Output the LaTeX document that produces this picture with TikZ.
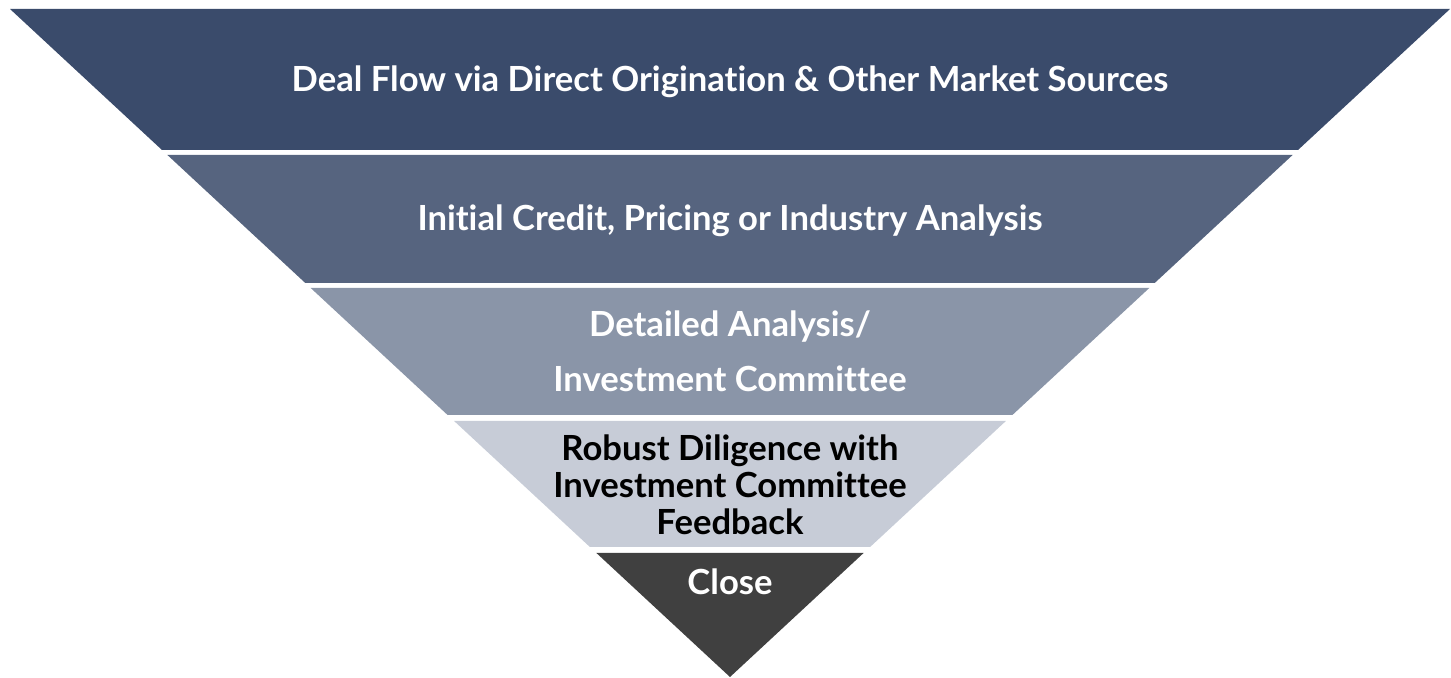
\documentclass[tikz,border=0pt]{standalone}
\usepackage{fontspec}
\setmainfont[Ligatures=NoCommon]{Lato}
\definecolor{bandA}{HTML}{3A4B6B}
\definecolor{bandB}{HTML}{56647F}
\definecolor{bandC}{HTML}{8A95A8}
\definecolor{bandD}{HTML}{C7CCD7}
\definecolor{bandE}{HTML}{404040}
\begin{document}
\begin{tikzpicture}[x=0.02cm, y=-0.02cm,
    label/.style={font=\fontsize{19.7}{21}\selectfont\bfseries, align=center, text=white},
    darklabel/.style={label, text=black}]
  \useasboundingbox (0, 0) rectangle (1451, 678) ;
  % funnel bands, top to bottom
  \fill[bandA] (10, 9) -- (1450, 9) -- (1298, 150) -- (162, 150) -- cycle ;
  \fill[bandB] (167.4, 155) -- (1292.6, 155) -- (1154.7, 283) -- (305.3, 283) -- cycle ;
  \fill[bandC] (310.7, 288) -- (1149.3, 288) -- (1012.4, 415) -- (447.6, 415) -- cycle ;
  \fill[bandD] (454.1, 421) -- (1005.9, 421) -- (870.1, 547) -- (589.9, 547) -- cycle ;
  \fill[bandE] (596.4, 553) -- (863.6, 553) -- (730, 677) -- cycle ;
  % stage texts
  \node[label] (deal) at (730, 81.5) {Deal Flow via Direct Origination \& Other Market Sources} ;
  \node[label] (initial) at (730, 221) {Initial Credit, Pricing or Industry Analysis} ;
  \node[label] (detailed) at (730, 327) {Detailed Analysis/} ;
  \node[label] (committee) at (730, 379) {Investment Committee} ;
  \node[darklabel] (diligence) at (730, 485) {Robust Diligence with\\Investment Committee\\Feedback} ;
  \node[label] (close) at (730, 582) {Close} ;
\end{tikzpicture}
\end{document}
